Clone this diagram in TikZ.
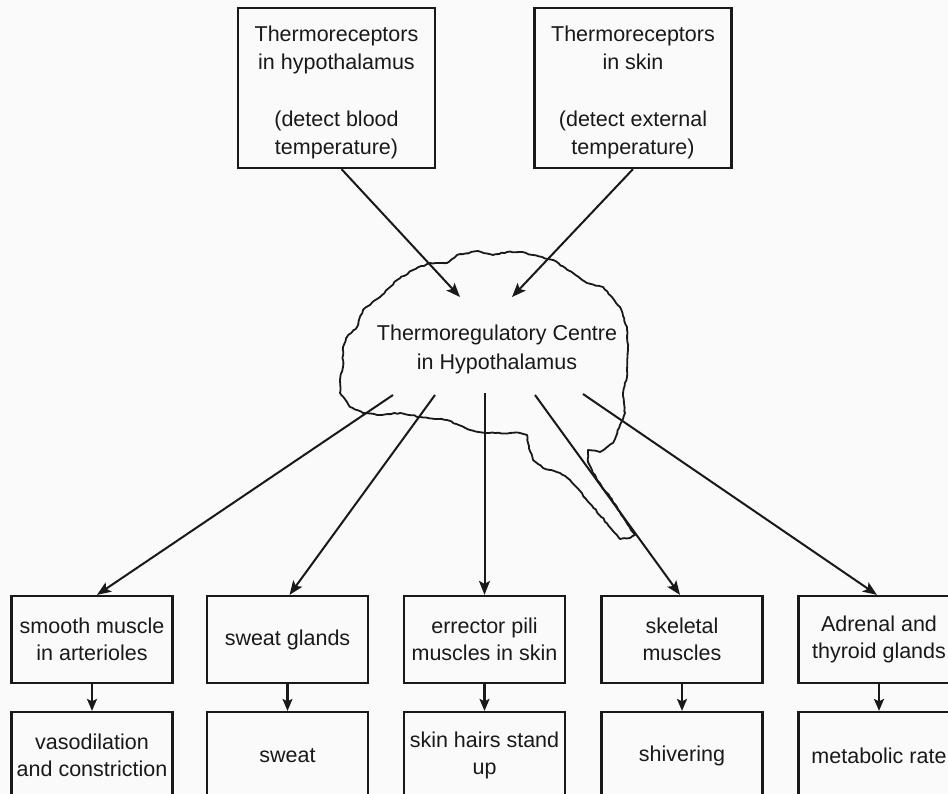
\documentclass[tikz,border=0pt]{standalone}
\usepackage{fontspec}
\setmainfont{Liberation Sans}
\usetikzlibrary{arrows.meta,calc,decorations.pathmorphing}
\begin{document}
\begin{tikzpicture}[x=1pt,y=-1pt,
  box/.style={draw=black!90,line width=2.2pt,minimum width=161pt,minimum height=87pt,inner sep=0pt,align=center,font=\fontsize{21.5}{27}\selectfont,text=black!90},
  topbox/.style={box,minimum width=197pt,minimum height=160pt,font=\fontsize{21.5}{28}\selectfont},
  arr/.style={line width=2pt,draw=black!90,-{Stealth[length=14pt,width=11pt,inset=3pt]}},
  sarr/.style={line width=2.2pt,draw=black!90,-{Stealth[length=12pt,width=10pt,inset=2.5pt]}},
  cloudline/.style={draw=black!90,line width=1.8pt,line join=round,decorate,decoration={random steps,segment length=3pt,amplitude=0.6pt}},
  lbl/.style={font=\fontsize{21.5}{29}\selectfont,align=center,text=black!90}]
\fill[gray!4] (0,0) rectangle (948,794);
\useasboundingbox (0,0) rectangle (948,794);
\clip (0,0) rectangle (948,794);

% cloud
\draw[cloudline] (343,347) -- (347,337) -- (357,327) -- (363,310) -- (380,297) -- (397,280) -- (413,270) -- (430,263) -- (447,263) -- (457,255) -- (478,251) -- (493,255) -- (507,252) -- (520,252) -- (533,255) -- (553,260) -- (573,273) -- (587,283) -- (603,287) -- (620,307) -- (627,327) -- (628,350) -- (627,377) -- (623,393) -- (625,413) -- (620,425) -- (613,443) -- (600,452) -- (588,450) -- (588,462) -- (597,480) -- (610,497) -- (623,517) -- (635,535) -- (630,538) -- (620,539) -- (617,535) -- (570,480) -- (560,473) -- (543,468) -- (533,460) -- (528,443) -- (527,435) -- (520,433) -- (510,433) -- (487,433) -- (470,430) -- (447,420) -- (420,417) -- (400,413) -- (380,415) -- (363,413) -- (350,407) -- (340,393) -- (340,380) -- (343,367) -- cycle;
\node[lbl] (centre) at (497,349) {Thermoregulatory Centre\\in Hypothalamus};

% top boxes
\node[topbox] (tr1) at (336.5,88) {\\[-3pt]Thermoreceptors\\in hypothalamus\\[29pt](detect blood\\temperature)};
\node[topbox] (tr2) at (633,88) {\\[-3pt]Thermoreceptors\\in skin\\[29pt](detect external\\temperature)};

% effector boxes
\node[box] (e1) at (92,639.5) {smooth muscle\\in arterioles};
\node[box] (e2) at (287.5,639.5) {sweat glands};
\node[box] (e3) at (484.5,639.5) {errector pili\\muscles in skin};
\node[box] (e4) at (682,639.5) {skeletal\\muscles};
\node[box] (e5) at (879,639.5) {Adrenal and\\thyroid glands};

% response boxes
\node[box] (r1) at (92,755.5) {vasodilation\\and constriction};
\node[box] (r2) at (287.5,755.5) {sweat};
\node[box] (r3) at (484.5,755.5) {skin hairs stand\\up};
\node[box] (r4) at (682,755.5) {shivering};
\node[box] (r5) at (879,755.5) {metabolic rate};

% coordinates in the cloud
\coordinate (t1) at (460,297);
\coordinate (t2) at (512,297);
\coordinate (s1) at (393,395);
\coordinate (s2) at (435,395);
\coordinate (s3) at (484.5,393);
\coordinate (s4) at (535,395);
\coordinate (s5) at (583,394);

\draw[arr] ($(tr1.south)+(5,0)$) -- (t1);
\draw[arr] (tr2.south) -- (t2);

\draw[arr] (s1) -- ($(e1.north)+(5,0)$);
\draw[arr] (s2) -- ($(e2.north)+(2,0)$);
\draw[arr] (s3) -- (e3.north);
\draw[arr] (s4) -- ($(e4.north)+(-2,0)$);
\draw[arr] (s5) -- ($(e5.north)+(-2,0)$);

\foreach \i in {1,...,5} {\draw[sarr] (e\i.south) -- (r\i.north);}
\end{tikzpicture}
\end{document}
